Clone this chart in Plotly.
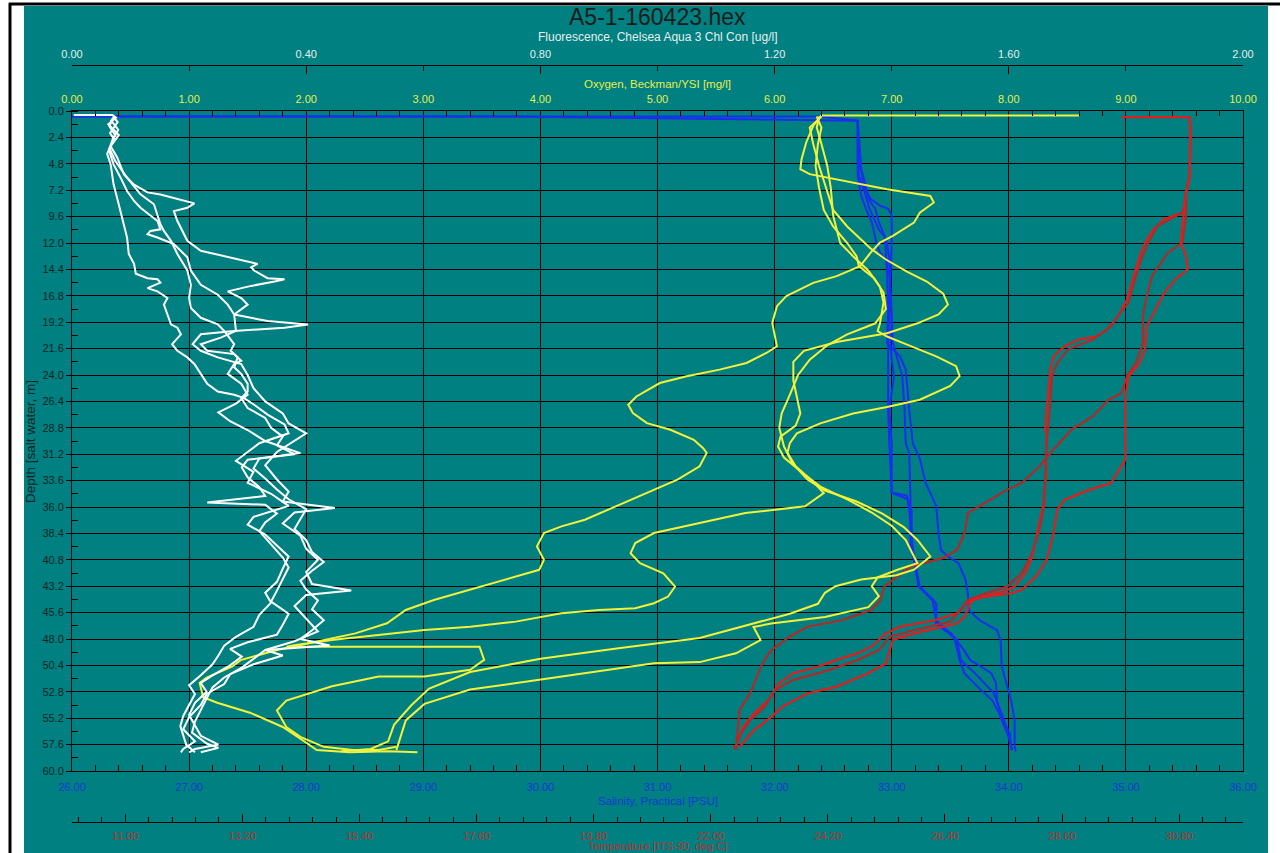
import plotly.graph_objects as go

# ---------------- DATA ----------------
# Fluorescence casts (white) : depth [m], fluorescence [ug/l]
W1_DEPTH = [0.36, 0.36, 0.6, 1.2, 2.2, 3.2, 4.2, 5.8, 6.7, 7.4, 7.6, 8.2, 8.4, 8.8, 9.1, 10.0, 10.9, 11.8, 12.7, 13.3, 13.9, 14.2, 14.5, 15.2, 15.3, 15.5, 15.9, 16.4, 17.0, 17.6, 18.5, 19.1, 19.4, 19.7, 20.0, 20.3, 21.2, 21.8, 22.4, 23.0, 24.0, 25.2, 26.4, 27.5, 28.4, 29.3, 30.0, 31.0, 32.2, 33.5, 34.6, 35.5, 36.1, 36.5, 37.5, 38.6, 39.8, 40.8, 41.9, 43.0, 43.6, 44.0, 45.0, 46.2, 47.3, 48.2, 49.0, 49.5, 50.3, 51.2, 52.1, 53.0, 54.0, 55.1, 56.2, 57.3, 58.0, 58.3]
W1_FLUOR = [0.003, 0.069, 0.075, 0.062, 0.08, 0.066, 0.077, 0.089, 0.106, 0.129, 0.151, 0.197, 0.209, 0.197, 0.174, 0.18, 0.189, 0.197, 0.22, 0.266, 0.317, 0.306, 0.311, 0.334, 0.363, 0.346, 0.306, 0.266, 0.289, 0.30, 0.277, 0.334, 0.403, 0.363, 0.277, 0.22, 0.206, 0.22, 0.249, 0.289, 0.30, 0.31, 0.33, 0.36, 0.37, 0.40, 0.38, 0.35, 0.33, 0.35, 0.37, 0.36, 0.449, 0.38, 0.36, 0.39, 0.40, 0.42, 0.40, 0.41, 0.477, 0.40, 0.38, 0.40, 0.42, 0.38, 0.33, 0.36, 0.31, 0.27, 0.26, 0.23, 0.22, 0.20, 0.19, 0.21, 0.19, 0.186]

W2_DEPTH = [0.5, 1.0, 2.0, 2.6, 3.5, 4.85, 6.06, 7.27, 8.18, 8.79, 10.0, 10.76, 10.9, 11.2, 11.5, 12.1, 13.3, 14.5, 15.8, 16.7, 17.6, 18.5, 20.0, 20.6, 21.2, 21.8, 22.1, 22.7, 23.0, 23.9, 24.8, 25.8, 26.6, 27.4, 28.2, 29.0, 30.0, 31.1, 31.7, 32.4, 33.3, 34.2, 35.0, 35.6, 35.8, 36.6, 37.4, 38.2, 39.4, 40.6, 41.5, 42.6, 43.6, 44.6, 45.7, 46.7, 47.6, 48.3, 48.9, 49.6, 50.4, 51.3, 52.0, 52.8, 53.8, 54.9, 55.9, 56.8, 57.6, 58.0, 58.3]
W2_FLUOR = [0.07, 0.078, 0.065, 0.072, 0.063, 0.071, 0.083, 0.094, 0.106, 0.117, 0.146, 0.151, 0.134, 0.129, 0.146, 0.174, 0.197, 0.203, 0.22, 0.249, 0.266, 0.277, 0.28, 0.254, 0.22, 0.231, 0.277, 0.289, 0.277, 0.266, 0.289, 0.30, 0.28, 0.25, 0.27, 0.30, 0.33, 0.39, 0.30, 0.29, 0.30, 0.32, 0.33, 0.231, 0.33, 0.35, 0.33, 0.32, 0.34, 0.36, 0.37, 0.36, 0.35, 0.34, 0.37, 0.36, 0.35, 0.30, 0.27, 0.29, 0.27, 0.24, 0.22, 0.23, 0.21, 0.20, 0.21, 0.22, 0.25, 0.21, 0.20]

W3_DEPTH = [0.6, 1.4, 2.2, 3.0, 3.9, 4.85, 6.67, 7.88, 9.09, 10.3, 11.5, 13.0, 13.9, 14.8, 15.2, 15.3, 15.6, 16.1, 16.4, 17.0, 17.6, 18.5, 19.4, 19.7, 20.3, 21.2, 21.8, 22.4, 23.0, 23.9, 24.8, 25.5, 25.8, 26.1, 26.7, 27.6, 28.5, 29.3, 30.2, 31.0, 31.8, 32.8, 33.8, 34.8, 35.9, 36.9, 37.6, 38.5, 39.5, 40.5, 41.6, 42.8, 43.8, 44.7, 45.8, 46.9, 47.8, 48.6, 49.5, 50.3, 51.3, 52.2, 53.0, 54.0, 55.0, 55.9, 56.8, 57.6, 58.3]
W3_FLUOR = [0.07, 0.064, 0.074, 0.068, 0.06, 0.066, 0.071, 0.077, 0.083, 0.089, 0.094, 0.097, 0.106, 0.109, 0.129, 0.146, 0.151, 0.129, 0.146, 0.163, 0.157, 0.163, 0.169, 0.18, 0.186, 0.171, 0.18, 0.197, 0.209, 0.22, 0.231, 0.249, 0.277, 0.294, 0.311, 0.334, 0.363, 0.37, 0.32, 0.30, 0.28, 0.31, 0.30, 0.34, 0.37, 0.31, 0.30, 0.33, 0.35, 0.37, 0.36, 0.35, 0.33, 0.34, 0.32, 0.31, 0.28, 0.26, 0.25, 0.24, 0.22, 0.20, 0.21, 0.20, 0.19, 0.185, 0.19, 0.195, 0.21]

W4_DEPTH = [0.8, 1.7, 2.5, 3.4, 4.55, 6.06, 7.58, 8.48, 10.3, 10.9, 11.8, 13.0, 14.5, 15.8, 17.0, 17.9, 18.8, 19.4, 20.0, 21.2, 21.8, 22.4, 23.3, 23.9, 24.8, 25.5, 26.1, 27.0, 27.9, 28.8, 29.6, 30.4, 31.2, 31.6, 32.5, 33.4, 34.4, 35.3, 36.2, 37.1, 38.0, 39.0, 40.1, 41.0, 41.8, 42.7, 43.5, 44.5, 45.3, 46.3, 47.2, 48.0, 48.6, 49.0, 49.8, 50.6, 51.5, 52.4, 53.4, 54.5, 55.5, 56.5, 57.5, 57.9, 58.3]
W4_FLUOR = [0.066, 0.079, 0.07, 0.064, 0.074, 0.094, 0.117, 0.14, 0.151, 0.157, 0.169, 0.18, 0.197, 0.203, 0.20, 0.203, 0.22, 0.249, 0.26, 0.277, 0.271, 0.283, 0.277, 0.289, 0.30, 0.30, 0.289, 0.30, 0.33, 0.34, 0.36, 0.35, 0.38, 0.32, 0.31, 0.33, 0.35, 0.37, 0.40, 0.39, 0.38, 0.40, 0.41, 0.43, 0.41, 0.39, 0.40, 0.42, 0.41, 0.43, 0.41, 0.39, 0.44, 0.33, 0.31, 0.29, 0.26, 0.24, 0.23, 0.22, 0.21, 0.205, 0.23, 0.25, 0.22]

# Salinity casts (blue) : depth [m], salinity [PSU]
B1_DEPTH = [0.5, 0.5, 0.88, 4.68, 5.29, 6.8, 8.0, 8.6, 8.9, 9.5, 12.0, 15.0, 18.0, 21.1, 24.1, 27.2, 30.2, 34.7, 34.9, 35.0, 36.3, 38.8, 40.8, 41.4, 43.2, 43.8, 44.5, 44.8, 46.6, 47.2, 47.5, 48.1, 49.9, 51.1, 52.4, 53.6, 55.4, 56.6, 58.1]
B1_SAL = [26.0, 32.39, 32.71, 32.71, 32.74, 32.76, 32.82, 32.90, 32.97, 33.00, 33.00, 32.99, 32.98, 32.97, 32.97, 32.97, 32.98, 33.00, 33.11, 33.13, 33.15, 33.17, 33.19, 33.20, 33.23, 33.29, 33.36, 33.38, 33.38, 33.45, 33.51, 33.54, 33.58, 33.62, 33.74, 33.86, 33.95, 34.01, 34.02]
B2_DEPTH = [0.5, 0.5, 0.88, 5.9, 7.4, 8.9, 9.8, 10.8, 11.4, 12.0, 13.5, 18.0, 21.1, 22.6, 24.1, 27.2, 30.2, 31.1, 35.3, 39.6, 41.1, 43.2, 44.5, 46.3, 47.5, 48.1, 49.9, 51.1, 52.9, 55.4, 57.8]
B2_SAL = [26.0, 29.74, 32.71, 32.72, 32.77, 32.81, 32.85, 32.89, 32.94, 32.96, 32.98, 33.00, 33.01, 33.05, 33.09, 33.11, 33.12, 33.15, 33.16, 33.16, 33.20, 33.23, 33.35, 33.38, 33.50, 33.56, 33.59, 33.71, 33.87, 33.96, 34.02]
B3_DEPTH = [0.88, 5.3, 6.5, 8.0, 8.9, 10.1, 11.4, 12.6, 14.4, 18.0, 21.1, 22.3, 23.5, 27.2, 30.2, 31.6, 33.8, 35.9, 38.4, 39.9, 40.5, 41.1, 42.6, 43.8, 45.4, 46.3, 47.2, 48.1, 50.5, 52.4, 53.6, 55.4, 57.8, 58.2]
B3_SAL = [32.71, 32.74, 32.77, 32.80, 32.86, 32.89, 32.94, 32.95, 32.96, 32.97, 32.96, 33.07, 33.12, 33.15, 33.18, 33.24, 33.29, 33.38, 33.40, 33.42, 33.48, 33.57, 33.63, 33.65, 33.66, 33.75, 33.90, 33.93, 33.94, 33.99, 34.02, 34.05, 34.05, 34.06]
B4_DEPTH = [0.88, 5.9, 7.7, 8.9, 10.1, 12.0, 12.9, 13.5, 15.0, 19.3, 21.1, 22.6, 24.1, 27.2, 30.2, 33.8, 34.7, 35.3, 36.3, 39.6, 41.1, 43.2, 44.8, 46.5, 47.2, 48.1, 48.9, 49.9, 50.5, 51.1, 52.0, 53.6, 55.1, 56.9, 58.1]
B4_SAL = [32.71, 32.71, 32.74, 32.78, 32.83, 32.87, 32.90, 32.95, 32.98, 33.00, 32.99, 33.00, 33.02, 32.98, 33.00, 33.00, 33.00, 33.14, 33.17, 33.17, 33.20, 33.24, 33.38, 33.38, 33.46, 33.55, 33.61, 33.67, 33.76, 33.85, 33.89, 33.90, 33.93, 34.00, 34.03]

# Oxygen casts (yellow) : depth [m], oxygen [mg/l]
Y1_DEPTH = [0.40, 0.40, 1.34, 2.86, 4.38, 5.29, 5.74, 6.20, 7.11, 7.72, 8.32, 9.24, 10.15, 11.36, 11.97, 12.88, 14.10, 15.01, 15.62, 16.83, 17.74, 19.26, 20.48, 21.39, 22.00, 22.91, 23.51, 24.12, 24.73, 25.95, 26.70, 27.46, 28.38, 28.98, 29.89, 30.65, 31.08, 32.30, 33.51, 34.42, 35.33, 36.25, 37.16, 37.76, 38.37, 39.59, 40.80, 41.71, 42.32, 43.54, 44.45, 45.36, 46.57, 47.49, 48.40, 49.00, 49.92, 50.5, 51.5, 52.0, 53.3, 53.8, 54.7, 56.0, 57.5, 58.1, 58.3, 58.2, 58.3]
Y1_OXY = [8.60, 6.40, 6.33, 6.27, 6.23, 6.22, 6.30, 6.53, 6.96, 7.33, 7.36, 7.24, 7.19, 7.01, 6.90, 6.82, 6.73, 6.53, 6.33, 6.10, 6.02, 5.98, 6.00, 6.02, 5.93, 5.76, 5.53, 5.25, 5.02, 4.82, 4.75, 4.79, 4.91, 5.11, 5.31, 5.39, 5.42, 5.36, 5.17, 4.97, 4.77, 4.58, 4.38, 4.18, 4.03, 3.97, 4.03, 3.99, 3.79, 3.40, 3.09, 2.85, 2.69, 2.42, 2.03, 1.75, 1.44, 1.37, 1.15, 1.09, 1.12, 1.24, 1.52, 1.80, 2.01, 2.09, 2.37, 2.70, 2.95]
Y2_DEPTH = [0.5, 1.5, 3.0, 5.0, 7.0, 9.0, 10.5, 11.5, 12.5, 13.5, 14.6, 15.5, 16.6, 17.6, 18.5, 19.3, 20.2, 21.0, 21.8, 22.8, 24.5, 26.0, 27.5, 28.6, 29.6, 30.5, 31.5, 33.0, 34.2, 35.3, 36.5, 37.7, 39.0, 40.5, 41.1, 41.7, 42.4, 43.2, 44.1, 45.1, 46.0, 46.6, 46.9, 48.1, 49.3, 50.1, 50.2, 51.7, 52.6, 53.9, 55.4, 58.1]
Y2_OXY = [6.40, 6.30, 6.33, 6.38, 6.44, 6.50, 6.62, 6.72, 6.82, 6.95, 7.13, 7.30, 7.44, 7.48, 7.40, 7.22, 6.96, 6.53, 6.25, 6.16, 6.16, 6.19, 6.22, 6.18, 6.05, 6.03, 6.08, 6.25, 6.40, 6.62, 6.83, 7.00, 7.12, 7.19, 7.22, 7.05, 6.88, 6.83, 6.89, 6.80, 6.43, 5.97, 5.82, 5.88, 5.67, 5.36, 4.97, 3.99, 3.40, 3.01, 2.85, 2.77]
Y3_DEPTH = [0.5, 1.5, 3.0, 5.0, 7.0, 9.5, 12.0, 13.2, 14.5, 16.0, 17.4, 19.3, 20.0, 20.5, 21.1, 22.3, 23.2, 24.1, 25.0, 26.25, 26.9, 27.5, 28.4, 29.3, 30.2, 31.08, 32.30, 33.82, 34.73, 35.94, 36.55, 37.46, 38.37, 39.28, 40.20, 41.11, 42.02, 43.23, 44.14, 44.75, 45.21, 45.36, 45.66, 46.42, 46.88, 47.18, 47.64, 48.09, 48.55, 48.7, 48.7, 48.7, 49.9, 50.8, 51.4, 51.4, 52.3, 53.6, 54.5, 56.0, 56.9, 57.8, 58.1, 58.1, 57.8]
Y3_OXY = [6.38, 6.36, 6.40, 6.45, 6.48, 6.50, 6.56, 6.67, 6.80, 6.90, 6.93, 6.90, 6.88, 6.96, 7.10, 7.38, 7.55, 7.58, 7.50, 7.24, 6.96, 6.67, 6.39, 6.19, 6.13, 6.11, 6.18, 6.34, 6.42, 6.26, 5.75, 5.36, 4.97, 4.81, 4.77, 4.85, 5.05, 5.15, 5.09, 4.97, 4.81, 4.50, 4.18, 3.79, 3.40, 3.01, 2.62, 2.22, 1.91, 1.83, 2.60, 3.48, 3.52, 3.40, 3.01, 2.62, 2.22, 1.83, 1.75, 1.83, 1.95, 2.15, 2.40, 2.62, 2.77]
Y4_DEPTH = [0.5, 1.5, 3.0, 5.0, 7.0, 9.0, 10.5, 12.0, 13.2, 14.1, 15.2, 16.5, 18.0, 19.3, 20.3, 21.3, 22.6, 24.0, 25.8, 27.5, 28.8, 30.5, 32.0, 33.5, 34.5, 35.5, 36.6, 37.8, 39.0, 40.5, 41.7, 42.2, 42.6, 43.2, 43.8, 44.8, 45.7, 46.6, 47.9, 48.8, 49.8, 51.0, 52.5, 54.0, 55.8, 57.3, 58.0, 58.2]
Y4_OXY = [6.36, 6.40, 6.37, 6.35, 6.38, 6.42, 6.50, 6.62, 6.70, 6.72, 6.85, 6.93, 6.95, 6.86, 6.62, 6.45, 6.30, 6.20, 6.13, 6.06, 6.04, 6.08, 6.15, 6.28, 6.43, 6.70, 6.92, 7.10, 7.22, 7.33, 7.19, 7.04, 6.74, 6.52, 6.43, 6.37, 6.13, 5.82, 5.36, 4.70, 4.00, 3.40, 3.05, 2.90, 2.75, 2.70, 2.55, 2.30]

# Temperature casts (red) : depth [m], temperature [deg C]
R1_DEPTH = [0.55, 0.55, 1.64, 5.9, 7.4, 8.9, 9.24, 9.84, 10.75, 11.97, 13.18, 15.01, 17.13, 18.65, 19.87, 20.48, 20.78, 21.39, 22.30, 23.51, 25.64, 28.98, 29.26, 33.21, 35.94, 38.37, 40.50, 42.02, 43.23, 43.69, 44.15, 44.75, 45.66, 46.27, 46.88, 47.49, 48.70, 49.31, 49.92, 50.52, 51.13, 52.04, 53.56, 54.78, 55.99, 57.81]
R1_TEMP = [29.72, 31.0, 31.01, 31.0, 30.93, 30.89, 30.86, 30.52, 30.32, 30.16, 30.06, 29.95, 29.82, 29.65, 29.45, 29.25, 28.91, 28.65, 28.44, 28.38, 28.34, 28.28, 28.31, 28.30, 28.24, 28.14, 28.04, 27.91, 27.71, 27.50, 27.10, 26.80, 26.63, 26.23, 25.56, 25.29, 25.02, 24.75, 24.35, 24.01, 23.54, 23.28, 23.08, 22.81, 22.61, 22.47]
R2_DEPTH = [0.6, 1.64, 5.9, 7.4, 8.9, 9.24, 10.45, 11.97, 13.49, 15.61, 17.44, 18.35, 19.57, 20.78, 21.69, 22.91, 24.12, 26.55, 30.20, 35.94, 38.37, 40.50, 42.02, 43.23, 43.84, 44.45, 45.36, 46.42, 47.18, 47.79, 49.01, 49.92, 50.83, 51.74, 52.65, 54.17, 55.38, 56.60, 57.97]
R2_TEMP = [31.0, 31.01, 31.0, 30.93, 30.89, 30.86, 30.39, 30.22, 30.09, 29.95, 29.85, 29.69, 29.52, 29.18, 28.71, 28.51, 28.41, 28.38, 28.31, 28.26, 28.16, 28.01, 27.84, 27.57, 27.17, 26.83, 26.70, 26.50, 25.83, 25.36, 25.16, 24.75, 24.22, 23.54, 23.21, 23.01, 22.74, 22.57, 22.44]
R3_DEPTH = [0.6, 1.64, 5.9, 7.4, 9.54, 11.97, 12.88, 13.79, 15.01, 16.83, 18.65, 21.08, 22.91, 24.12, 25.64, 26.22, 27.74, 28.95, 30.78, 32.30, 33.82, 34.42, 35.94, 36.55, 38.37, 39.89, 40.65, 40.95, 41.41, 42.62, 43.23, 44.45, 45.36, 46.27, 46.88, 47.79, 49.01, 50.22, 52.95, 54.47, 56.60, 58.12]
R3_TEMP = [31.0, 31.01, 31.0, 30.93, 30.93, 30.86, 30.59, 30.46, 30.29, 30.19, 30.12, 30.12, 29.99, 29.82, 29.72, 29.48, 29.18, 28.78, 28.44, 28.18, 27.84, 27.57, 27.03, 26.83, 26.77, 26.63, 26.36, 26.10, 25.76, 25.42, 25.26, 25.19, 25.02, 24.48, 23.81, 23.48, 23.14, 22.97, 22.74, 22.54, 22.50, 22.47]
R4_DEPTH = [0.6, 1.64, 5.9, 7.4, 8.9, 9.24, 11.97, 13.18, 14.40, 15.31, 16.53, 18.05, 19.57, 21.69, 22.91, 24.12, 25.95, 30.20, 31.69, 33.82, 34.42, 35.33, 36.25, 38.37, 40.80, 42.32, 43.54, 43.84, 44.15, 44.45, 45.97, 46.57, 46.88, 47.49, 48.09, 50.22, 51.13, 52.35, 52.95, 54.17, 55.08, 56.30, 57.81]
R4_TEMP = [31.0, 31.01, 31.0, 30.93, 30.89, 30.89, 30.83, 30.93, 30.96, 30.73, 30.52, 30.36, 30.19, 30.16, 30.06, 29.85, 29.79, 29.79, 29.79, 29.52, 29.12, 28.65, 28.51, 28.44, 28.31, 28.11, 27.84, 27.64, 27.17, 26.90, 26.77, 26.63, 26.36, 25.83, 25.42, 25.29, 24.95, 24.35, 23.81, 23.34, 23.14, 22.81, 22.54]

# Axis ranges and tick labels
DEPTH_RANGE = [60, 0]
SAL_RANGE = [26, 36]
TEMP_RANGE = [10, 32]
OXY_RANGE = [0, 10]
FLUOR_RANGE = [0, 2]

TITLE = "A5-1-160423.hex"
DEPTH_TITLE = "Depth [salt water, m]"
SAL_TITLE = "Salinity, Practical [PSU]"
TEMP_TITLE = "Temperature [ITS-90, deg C]"
OXY_TITLE = "Oxygen, Beckman/YSI [mg/l]"
FLUOR_TITLE = "Fluorescence, Chelsea Aqua 3 Chl Con [ug/l]"

# ---------------- STYLE ----------------
W, H = 1285, 853
TEAL = "#008080"
FONT = "Liberation Sans"
X0, X1 = 72 / W, 1243 / W
Y0, Y1 = 1 - 771 / H, 1 - 111 / H
XC = (X0 + X1) / 2

C_WHITE = "#ffffff"
C_YELLOW = "#f2f23a"
C_BLUE = "#1a2ef0"
C_RED = "#e01e1e"
C_RED2 = "#b02a2a"

C_DEPTH_LBL = "#0e2424"
C_SAL_LBL = "#1538d8"
C_TEMP_LBL = "#b03636"
C_OXY_LBL = "#e4ee4e"
C_FLU_LBL = "#e6eeee"

fig = go.Figure()

def add(xs, ys, axis, color, width=2):
    fig.add_trace(go.Scatter(x=xs, y=ys, xaxis=axis, yaxis="y", mode="lines",
                             line=dict(color=color, width=width), hoverinfo="skip",
                             showlegend=False))

for d, v in [(B1_DEPTH, B1_SAL), (B2_DEPTH, B2_SAL), (B3_DEPTH, B3_SAL), (B4_DEPTH, B4_SAL)]:
    add(v, d, "x", C_BLUE, 2)
for d, v in [(Y1_DEPTH, Y1_OXY), (Y2_DEPTH, Y2_OXY), (Y3_DEPTH, Y3_OXY), (Y4_DEPTH, Y4_OXY)]:
    add(v, d, "x3", C_YELLOW, 2)
for d, v in [(W1_DEPTH, W1_FLUOR), (W2_DEPTH, W2_FLUOR), (W3_DEPTH, W3_FLUOR), (W4_DEPTH, W4_FLUOR)]:
    add(v, d, "x4", C_WHITE, 2)
for (d, v), c in zip([(R1_DEPTH, R1_TEMP), (R2_DEPTH, R2_TEMP), (R3_DEPTH, R3_TEMP), (R4_DEPTH, R4_TEMP)],
                     [C_RED, C_RED2, C_RED2, C_RED]):
    add(v, d, "x2", c, 2.2)

tf = lambda c, s=11: dict(family=FONT, size=s, color=c)

fig.update_layout(
    width=W, height=H, margin=dict(l=0, r=0, t=0, b=0, pad=0, autoexpand=False),
    paper_bgcolor="white", plot_bgcolor=TEAL, showlegend=False,
    yaxis=dict(domain=[Y0, Y1], range=DEPTH_RANGE, tick0=0, dtick=2.4, tickformat=".1f",
               automargin=False,
               showgrid=True, gridcolor="#000000", gridwidth=1, zeroline=False,
               showline=True, linecolor="#000000", linewidth=1, mirror=True,
               ticks="outside", ticklen=5, tickcolor="#000000", tickfont=tf(C_DEPTH_LBL),
               minor=dict(dtick=1.2, tick0=0, ticks="inside", ticklen=6, tickcolor="#000000", showgrid=False)),
    xaxis=dict(domain=[X0, X1], range=SAL_RANGE, tick0=26, dtick=1, tickformat=".2f",
               automargin=False,
               anchor="y", side="bottom", showgrid=True, gridcolor="#000000", gridwidth=1, zeroline=False,
               showline=True, linecolor="#000000", linewidth=1, ticks="", tickfont=tf(C_SAL_LBL),
               ticklabelstandoff=6,
               minor=dict(dtick=0.2, tick0=26, ticks="inside", ticklen=6, tickcolor="#000000", showgrid=False)),
    xaxis2=dict(domain=[X0, X1], range=TEMP_RANGE, overlaying="x", anchor="free", position=1 - 822 / H,
                automargin=False,
                side="bottom", tick0=11, dtick=2.2, tickformat=".2f", showgrid=False, zeroline=False,
                showline=True, linecolor="#000000", linewidth=1, ticks="inside", ticklen=8,
                tickcolor="#000000", tickfont=tf(C_TEMP_LBL), ticklabelstandoff=4,
                minor=dict(dtick=0.44, tick0=11, ticks="inside", ticklen=5, tickcolor="#000000", showgrid=False)),
    xaxis3=dict(domain=[X0, X1], range=OXY_RANGE, overlaying="x", anchor="y", side="top",
                automargin=False,
                tick0=0, dtick=1, tickformat=".2f", showgrid=False, zeroline=False,
                showline=True, linecolor="#000000", linewidth=1, ticks="", tickfont=tf(C_OXY_LBL),
                ticklabelstandoff=3,
                minor=dict(dtick=0.2, tick0=0, ticks="inside", ticklen=5, tickcolor="#000000", showgrid=False)),
    xaxis4=dict(domain=[X0, X1], range=FLUOR_RANGE, overlaying="x", anchor="free", position=1 - 65 / H,
                automargin=False,
                side="top", tick0=0, dtick=0.4, tickformat=".2f", showgrid=False, zeroline=False,
                showline=True, linecolor="#000000", linewidth=1, ticks="inside", ticklen=8,
                tickcolor="#000000", tickfont=tf(C_FLU_LBL), ticklabelstandoff=3,
                minor=dict(dtick=0.2, tick0=0, ticks="inside", ticklen=5, tickcolor="#000000", showgrid=False)),
    shapes=[
        dict(type="rect", xref="paper", yref="paper", x0=24 / W, x1=1268 / W, y0=0, y1=1 - 6 / H,
             fillcolor=TEAL, line=dict(width=0), layer="below"),
        dict(type="line", xref="paper", yref="paper", x0=10 / W, x1=10 / W, y0=0, y1=1 - 3 / H,
             line=dict(color="#000000", width=3)),
        dict(type="line", xref="paper", yref="paper", x0=9 / W, x1=1280 / W, y0=1 - 4 / H, y1=1 - 4 / H,
             line=dict(color="#000000", width=3)),
    ],
    annotations=[
        dict(text=TITLE, xref="paper", yref="paper", x=XC, y=1 - 17 / H, showarrow=False,
             font=dict(family=FONT, size=23, color="#1c1c1c"), xanchor="center", yanchor="middle"),
        dict(text=FLUOR_TITLE, xref="paper", yref="paper", x=XC, y=1 - 37 / H, showarrow=False,
             font=tf(C_FLU_LBL, 12), xanchor="center", yanchor="middle"),
        dict(text=OXY_TITLE, xref="paper", yref="paper", x=XC, y=1 - 84 / H, showarrow=False,
             font=tf(C_OXY_LBL, 11.5), xanchor="center", yanchor="middle"),
        dict(text=SAL_TITLE, xref="paper", yref="paper", x=XC, y=1 - 801 / H, showarrow=False,
             font=tf(C_SAL_LBL, 11.5), xanchor="center", yanchor="middle"),
        dict(text=TEMP_TITLE, xref="paper", yref="paper", x=XC, y=1 - 846 / H, showarrow=False,
             font=tf(C_TEMP_LBL, 11), xanchor="center", yanchor="middle"),
        dict(text=DEPTH_TITLE, xref="paper", yref="paper", x=30 / W, y=1 - 442 / H, showarrow=False,
             textangle=-90, font=tf(C_DEPTH_LBL, 13.5), xanchor="center", yanchor="middle"),
    ],
)

fig.write_html("out.html", config={"displayModeBar": False},
               post_script="document.body.style.margin='0';document.body.style.overflow='hidden';")
